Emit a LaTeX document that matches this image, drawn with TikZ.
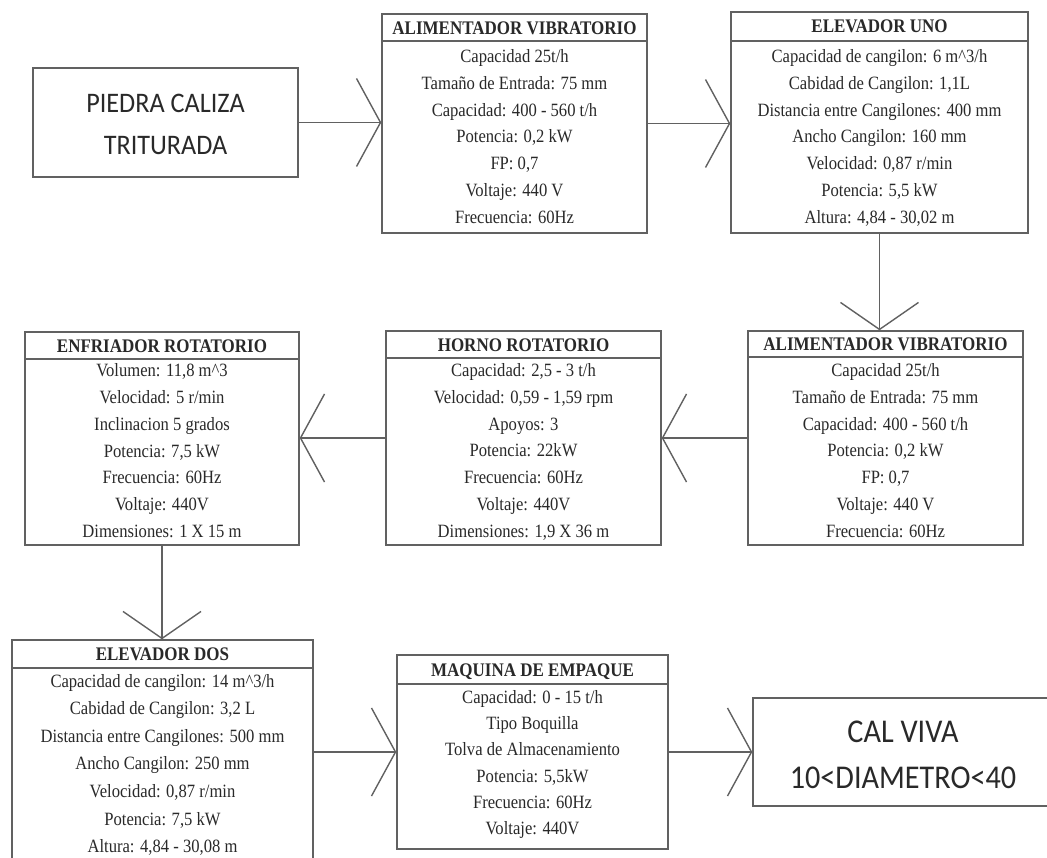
\documentclass[tikz,border=0pt]{standalone}
\usepackage{fontspec}
\setmainfont{Liberation Serif}
\newfontfamily\calib{Carlito}
\usetikzlibrary{arrows.meta,fit}
\definecolor{linec}{gray}{0.38}
\definecolor{textc}{gray}{0.16}
\newcommand\vs[1]{\scalebox{1}[1.13]{#1}}
\newcommand\boxlines[5]{\foreach \t [count=\i] in {#5}{\node[txt] (#1-\i) at (#2,{#3+(\i-1)*#4}) {\vs{\t}};}}
\begin{document}
\begin{tikzpicture}[x=1pt,y=-1pt,
 boxst/.style={draw=linec, line width=1.4pt, inner sep=0pt, rectangle},
 band/.style={draw=linec, line width=1.4pt},
 txt/.style={anchor=base, inner sep=0pt, text=textc, font=\fontsize{16.6}{18}\selectfont},
 ttl/.style={anchor=base, inner sep=0pt, text=textc, font=\fontsize{17}{19}\selectfont\bfseries},
 big/.style={anchor=base, inner sep=0pt, text=textc},
 harr/.style={draw=linec, line width=1.4pt, -{Straight Barb[length=24pt,width=88pt]}},
 varr/.style={draw=linec, line width=1.4pt, -{Straight Barb[length=27pt,width=78pt]}}]
\fill[white] (0,0) rectangle (1047,858);
\useasboundingbox (0,0) rectangle (1047,858);
\clip (0,0) rectangle (1047,858);

% PIEDRA CALIZA
\node[boxst, fit={(33,68) (298,177)}] (p) {};
\node[big, font=\calib\fontsize{26.2}{28}\selectfont] (p1) at (165.5,113) {\scalebox{1}[1.08]{PIEDRA CALIZA}};
\node[big, font=\calib\fontsize{26.2}{28}\selectfont] (p2) at (165.5,155) {\scalebox{1}[1.08]{TRITURADA}};

% ALIMENTADOR 1
\node[boxst, fit={(382,14) (647,233)}] (a1) {};
\draw[band] (382,41) -- (647,41);
\node[ttl] (a1t) at (514.5,34.4) {\vs{ALIMENTADOR VIBRATORIO}};
\boxlines{a1}{514.5}{62.5}{26.8}{{Capacidad 25t/h},{Tamaño de Entrada: 75 mm},{Capacidad: 400 - 560 t/h},{Potencia: 0,2 kW},{FP: 0,7},{Voltaje: 440 V},{Frecuencia: 60Hz}}

% ELEVADOR UNO
\node[boxst, fit={(731,12) (1028,233)}] (e1) {};
\draw[band] (731,41) -- (1028,41);
\node[ttl] (e1t) at (879.5,33) {\vs{ELEVADOR UNO}};
\boxlines{e1}{879.5}{62.5}{26.8}{{Capacidad de cangilon: 6 m\textasciicircum 3/h},{Cabidad de Cangilon: 1,1L},{Distancia entre Cangilones: 400 mm},{Ancho Cangilon: 160 mm},{Velocidad: 0,87 r/min},{Potencia: 5,5 kW},{Altura: 4,84 - 30,02 m}}

% ALIMENTADOR 2
\node[boxst, fit={(748,331) (1023,545)}] (a2) {};
\draw[band] (748,357) -- (1023,357);
\node[ttl] (a2t) at (885.5,350.4) {\vs{ALIMENTADOR VIBRATORIO}};
\boxlines{a2}{885.5}{376.5}{26.8}{{Capacidad 25t/h},{Tamaño de Entrada: 75 mm},{Capacidad: 400 - 560 t/h},{Potencia: 0,2 kW},{FP: 0,7},{Voltaje: 440 V},{Frecuencia: 60Hz}}

% HORNO
\node[boxst, fit={(386,331) (661,545)}] (h) {};
\draw[band] (386,358) -- (661,358);
\node[ttl] (ht) at (523.5,351.4) {\vs{HORNO ROTATORIO}};
\boxlines{h}{523.5}{376.5}{26.8}{{Capacidad: 2,5 - 3 t/h},{Velocidad: 0,59 - 1,59 rpm},{Apoyos: 3},{Potencia: 22kW},{Frecuencia: 60Hz},{Voltaje: 440V},{Dimensiones: 1,9 X 36 m}}

% ENFRIADOR
\node[boxst, fit={(25,332) (299,545)}] (en) {};
\draw[band] (25,359) -- (299,359);
\node[ttl] (ent) at (162,352.4) {\vs{ENFRIADOR ROTATORIO}};
\boxlines{en}{162}{377}{26.7}{{Volumen: 11,8 m\textasciicircum 3},{Velocidad: 5 r/min},{Inclinacion 5 grados},{Potencia: 7,5 kW},{Frecuencia: 60Hz},{Voltaje: 440V},{Dimensiones: 1 X 15 m}}

% ELEVADOR DOS
\node[boxst, fit={(12,640) (313,880)}] (e2) {};
\draw[band] (12,668) -- (313,668);
\node[ttl] (e2t) at (162.5,660.4) {\vs{ELEVADOR DOS}};
\boxlines{e2}{162.5}{687}{27.6}{{Capacidad de cangilon: 14 m\textasciicircum 3/h},{Cabidad de Cangilon: 3,2 L},{Distancia entre Cangilones: 500 mm},{Ancho Cangilon: 250 mm},{Velocidad: 0,87 r/min},{Potencia: 7,5 kW},{Altura: 4,84 - 30,08 m}}

% MAQUINA
\node[boxst, fit={(397,655) (668,849)}] (mq) {};
\draw[band] (397,684) -- (668,684);
\node[ttl] (mqt) at (532.5,676.4) {\vs{MAQUINA DE EMPAQUE}};
\boxlines{mq}{532.5}{703.5}{26.2}{{Capacidad: 0 - 15 t/h},{Tipo Boquilla},{Tolva de Almacenamiento},{Potencia: 5,5kW},{Frecuencia: 60Hz},{Voltaje: 440V}}

% CAL VIVA
\node[boxst, fit={(753,698) (1053,806)}] (cv) {};
\node[big, font=\calib\fontsize{30.2}{32}\selectfont] (cv1) at (903,742) {\scalebox{1}[1.1]{CAL VIVA}};
\node[big, font=\calib\fontsize{30.2}{32}\selectfont] (cv2) at (903,788) {\scalebox{1}[1.1]{10<DIAMETRO<40}};

% connectors
\draw[harr] (p.east) -- (a1.west |- p.east);
\draw[harr] (a1.east) -- (e1.west |- a1.east);
\draw[varr] (e1.south) -- (e1.south |- a2.north);
\draw[harr] (a2.west) -- (h.east |- a2.west);
\draw[harr] (h.west) -- (en.east |- h.west);
\draw[varr] (en.south) -- (en.south |- e2.north);
\draw[harr] (e2.east |- mq.west) -- (mq.west);
\draw[harr] (mq.east) -- (cv.west |- mq.east);
\end{tikzpicture}
\end{document}
